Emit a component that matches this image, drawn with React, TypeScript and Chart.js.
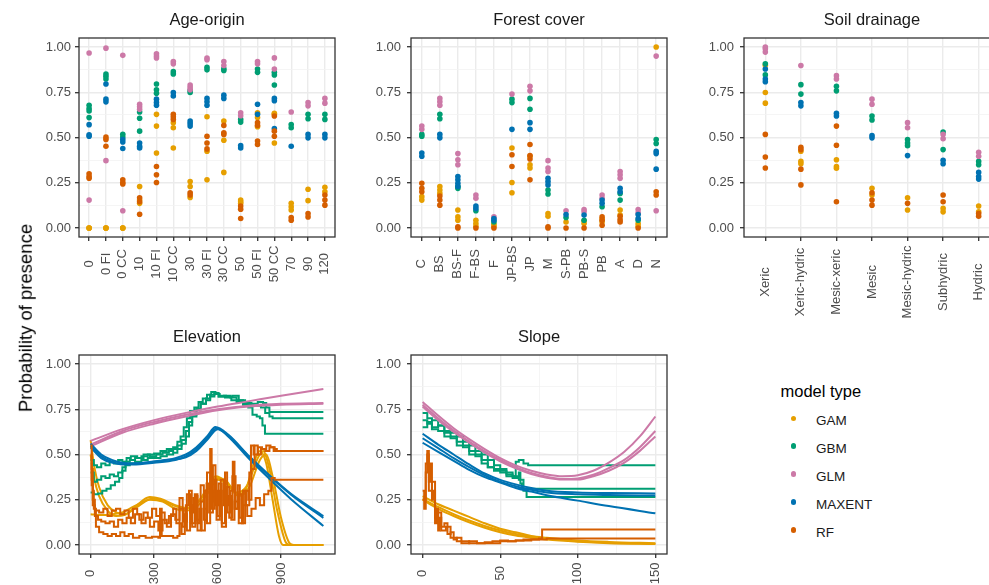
import React, { useEffect, useRef } from "react";
import { Chart, registerables } from "chart.js";
Chart.register(...registerables);

const FONT = "'Liberation Sans', Arial, Helvetica, sans-serif";
const MODELS = ["GAM", "GBM", "GLM", "MAXENT", "RF"];
const COLORS = ["#E69F00", "#009E73", "#CC79A7", "#0072B2", "#D55E00"];

const Y_TICKS = [0, 0.125, 0.25, 0.375, 0.5, 0.625, 0.75, 0.875, 1];
const Y_MAJOR_STEP = 0.25;

// ---------- Age-origin ----------
const AGE_CATS = ["0", "0 FI", "0 CC", "10", "10 FI", "10 CC", "30", "30 FI", "30 CC", "50", "50 FI", "50 CC", "70", "90", "120"];
const ageGAM = [[0, 0, 0], [0, 0, 0], [0, 0, 0], [0.229, 0.154, 0.136], [0.628, 0.563, 0.414], [0.582, 0.554, 0.442], [0.257, 0.229, 0.169], [0.615, 0.424, 0.266], [0.591, 0.485, 0.307], [0.154, 0.145, 0.136], [0.637, 0.61, 0.56], [0.634, 0.628, 0.47], [0.136, 0.117, 0.099], [0.214, 0.151], [0.225, 0.2]];
const ageGBM = [[0.678, 0.66, 0.647, 0.61], [0.851, 0.838, 0.823], [0.518, 0.503], [0.641, 0.606, 0.535], [0.796, 0.764, 0.745], [0.864, 0.851], [0.76, 0.749], [0.888, 0.874], [0.88, 0.87], [0.6, 0.585], [0.879, 0.86], [0.86, 0.846, 0.79], [0.572, 0.554], [0.628, 0.604], [0.628, 0.6]];
const ageGLM = [[0.967, 0.154], [0.994, 0.372], [0.954, 0.095], [0.684, 0.67, 0.656], [0.963, 0.95, 0.94], [0.92, 0.907], [0.79, 0.777, 0.764], [0.939, 0.93], [0.92, 0.898], [0.637, 0.62], [0.92, 0.907], [0.94, 0.879], [0.641], [0.693, 0.675], [0.716, 0.69]];
const ageMAX = [[0.571, 0.515, 0.507], [0.796, 0.712, 0.697], [0.489, 0.475, 0.439], [0.47, 0.452, 0.442], [0.712, 0.693, 0.678], [0.749, 0.73], [0.591, 0.578, 0.563], [0.716, 0.697, 0.678], [0.734, 0.716], [0.455, 0.442], [0.684, 0.628], [0.716, 0.703, 0.549], [0.452], [0.517, 0.498], [0.517, 0.498]];
const ageRF = [[0.3, 0.284, 0.275], [0.502, 0.489, 0.452], [0.266, 0.251, 0.243], [0.167, 0.145, 0.076], [0.34, 0.294, 0.251], [0.628, 0.615, 0.6], [0.195, 0.182], [0.507, 0.47, 0.437], [0.567, 0.526, 0.517], [0.121, 0.104, 0.052], [0.582, 0.567, 0.48, 0.461], [0.619, 0.535, 0.507], [0.058, 0.043], [0.08, 0.061], [0.182, 0.154, 0.126]];

// ---------- Forest cover ----------
const FOREST_CATS = ["C", "BS", "BS-F", "F-BS", "F", "JP-BS", "JP", "M", "S-PB", "PB-S", "PB", "A", "D", "N"];
const forGAM = [[0.173, 0.154], [0.229, 0.21, 0.191], [0.099, 0.061, 0.043], [0.043, 0.024, 0.009], [0.02, 0.009], [0.442, 0.251, 0.195], [0.396, 0.349, 0.331], [0.08, 0.065], [0.033], [0.04, 0.024], [0.05, 0.033], [0.099, 0.071], [0.024, 0.01], [1.0]];
const forGBM = [[0.517, 0.507], [0.628, 0.604], [0.23, 0.219], [0.095], [0.033], [0.712, 0.693], [0.716, 0.656], [0.21, 0.188], [0.058], [0.043], [0.117], [0.191, 0.154], [0.043], [0.489, 0.467]];
const forGLM = [[0.563, 0.545], [0.716, 0.697, 0.678], [0.411, 0.377, 0.349], [0.182, 0.164], [0.061], [0.74], [0.783, 0.758], [0.372, 0.331, 0.312], [0.095], [0.102, 0.089], [0.182, 0.164], [0.312, 0.294, 0.275], [0.102, 0.084], [0.95, 0.095]];
const forMAX = [[0.414, 0.396], [0.517, 0.498], [0.284, 0.266, 0.247, 0.229], [0.121, 0.108], [0.052, 0.043], [0.545], [0.582, 0.545], [0.275, 0.257, 0.238], [0.074], [0.071], [0.154, 0.136], [0.219, 0.2], [0.074, 0.052], [0.424, 0.411, 0.325]];
const forRF = [[0.247, 0.219, 0.2], [0.177, 0.154, 0.126], [0.006, 0], [0], [0], [0.405, 0.34], [0.461, 0.4, 0.381, 0.266], [0.006, 0], [0], [0], [0.061, 0.043, 0.015], [0.065, 0.046, 0.033], [0], [0.2, 0.182]];

// ---------- Soil drainage ----------
const SOIL_CATS = ["Xeric", "Xeric-hydric", "Mesic-xeric", "Mesic", "Mesic-hydric", "Subhydric", "Hydric"];
const soilGAM = [[0.9, 0.749, 0.69], [0.424, 0.368, 0.355], [0.377, 0.34, 0.33], [0.219, 0.182], [0.167, 0.099], [0.108, 0.089], [0.121, 0.089]];
const soilGBM = [[0.907, 0.846], [0.792, 0.74], [0.783, 0.758], [0.619, 0.597], [0.489, 0.47, 0.455], [0.53, 0.433], [0.368, 0.349]];
const soilGLM = [[1.0, 0.991, 0.972], [0.898], [0.842, 0.823], [0.712, 0.684], [0.582, 0.554], [0.517, 0.493], [0.418, 0.396]];
const soilMAX = [[0.879, 0.823, 0.808], [0.693, 0.675], [0.634, 0.619], [0.511, 0.498], [0.4], [0.374, 0.355], [0.307, 0.284, 0.27]];
const soilRF = [[0.517, 0.392, 0.331], [0.446, 0.433, 0.325, 0.238], [0.563, 0.457, 0.145], [0.195, 0.154, 0.126], [0.136], [0.182, 0.145], [0.08, 0.065]];

// ---------- Elevation (x, probability) ----------
const ELEV_TICKS = [0, 150, 300, 450, 600, 750, 900, 1050];
const elevGAM1 = [[0, 0.58], [15, 0.45], [40, 0.32], [80, 0.22], [120, 0.18], [160, 0.17], [200, 0.2], [250, 0.25], [280, 0.265], [330, 0.255], [400, 0.22], [450, 0.205], [500, 0.23], [550, 0.31], [590, 0.38], [640, 0.35], [690, 0.28], [730, 0.3], [770, 0.45], [800, 0.52], [830, 0.45], [860, 0.25], [890, 0.05], [910, 0], [1100, 0]];
const elevGAM2 = [[0, 0.17], [50, 0.165], [100, 0.17], [150, 0.18], [200, 0.21], [250, 0.24], [290, 0.255], [340, 0.245], [400, 0.215], [450, 0.2], [500, 0.225], [550, 0.3], [595, 0.37], [640, 0.355], [690, 0.29], [740, 0.33], [790, 0.48], [815, 0.52], [845, 0.42], [880, 0.2], [920, 0.02], [940, 0], [1100, 0]];
const elevGAM3 = [[0, 0.5], [15, 0.38], [40, 0.27], [80, 0.19], [120, 0.16], [160, 0.165], [220, 0.21], [280, 0.25], [340, 0.24], [400, 0.2], [450, 0.19], [500, 0.21], [550, 0.28], [600, 0.36], [650, 0.33], [700, 0.27], [750, 0.32], [800, 0.47], [830, 0.5], [860, 0.38], [900, 0.15], [940, 0.01], [960, 0], [1100, 0]];
const elevGBM1 = [[0, 0.47], [15, 0.44], [30, 0.43], [50, 0.45], [70, 0.44], [90, 0.46], [110, 0.45], [130, 0.47], [150, 0.46], [170, 0.48], [190, 0.49], [220, 0.48], [250, 0.5], [280, 0.49], [310, 0.5], [340, 0.51], [370, 0.52], [390, 0.54], [410, 0.57], [425, 0.6], [440, 0.65], [455, 0.7], [470, 0.74], [490, 0.76], [510, 0.79], [530, 0.81], [550, 0.83], [570, 0.845], [590, 0.835], [610, 0.825], [640, 0.82], [670, 0.825], [700, 0.8], [730, 0.785], [760, 0.78], [790, 0.79], [815, 0.785], [830, 0.76], [845, 0.735], [1100, 0.735]];
const elevGBM2 = [[0, 0.4], [15, 0.35], [30, 0.36], [50, 0.38], [70, 0.37], [90, 0.39], [110, 0.38], [130, 0.4], [150, 0.43], [165, 0.46], [185, 0.47], [210, 0.48], [240, 0.49], [270, 0.5], [300, 0.505], [330, 0.52], [360, 0.53], [390, 0.53], [410, 0.55], [430, 0.58], [450, 0.63], [465, 0.68], [480, 0.72], [500, 0.75], [520, 0.78], [545, 0.81], [565, 0.83], [585, 0.84], [605, 0.82], [630, 0.825], [660, 0.815], [690, 0.8], [720, 0.785], [750, 0.775], [780, 0.77], [805, 0.76], [825, 0.73], [845, 0.71], [860, 0.7], [1100, 0.7]];
const elevGBM3 = [[0, 0.29], [15, 0.28], [35, 0.285], [55, 0.3], [75, 0.31], [95, 0.33], [115, 0.35], [135, 0.37], [150, 0.41], [165, 0.44], [185, 0.45], [210, 0.46], [240, 0.47], [270, 0.48], [300, 0.48], [330, 0.49], [360, 0.5], [390, 0.51], [410, 0.53], [430, 0.56], [450, 0.6], [465, 0.66], [480, 0.71], [500, 0.75], [520, 0.78], [545, 0.8], [565, 0.82], [585, 0.835], [605, 0.82], [635, 0.815], [665, 0.8], [690, 0.79], [720, 0.775], [745, 0.76], [765, 0.72], [785, 0.71], [800, 0.7], [812, 0.66], [824, 0.615], [1100, 0.615]];
const elevGLM1 = [[0, 0.575], [150, 0.64], [300, 0.69], [450, 0.73], [600, 0.765], [750, 0.795], [900, 0.825], [1100, 0.862]];
const elevGLM2 = [[0, 0.555], [150, 0.63], [300, 0.68], [450, 0.72], [600, 0.75], [750, 0.77], [900, 0.78], [1100, 0.785]];
const elevGLM3 = [[0, 0.545], [150, 0.62], [300, 0.67], [450, 0.71], [600, 0.745], [750, 0.765], [900, 0.775], [1100, 0.78]];
const elevMAX1 = [[0, 0.56], [50, 0.5], [100, 0.47], [150, 0.455], [200, 0.45], [300, 0.46], [400, 0.48], [450, 0.5], [500, 0.54], [550, 0.6], [590, 0.652], [650, 0.61], [750, 0.49], [850, 0.38], [950, 0.28], [1100, 0.16]];
const elevMAX2 = [[0, 0.55], [50, 0.49], [100, 0.46], [150, 0.445], [200, 0.445], [300, 0.455], [400, 0.47], [450, 0.49], [500, 0.53], [550, 0.59], [595, 0.645], [650, 0.6], [750, 0.475], [850, 0.36], [950, 0.25], [1100, 0.105]];
const elevMAX3 = [[0, 0.54], [50, 0.48], [100, 0.455], [150, 0.45], [250, 0.455], [350, 0.47], [450, 0.485], [500, 0.52], [550, 0.58], [600, 0.64], [650, 0.605], [750, 0.485], [850, 0.375], [950, 0.275], [1100, 0.15]];
const elevRF1 = [[0, 0.55], [5, 0.42], [10, 0.3], [15, 0.2], [25, 0.1], [40, 0.07], [60, 0.06], [80, 0.05], [100, 0.06], [120, 0.05], [140, 0.07], [160, 0.05], [180, 0.06], [200, 0.04], [230, 0.05], [260, 0.04], [290, 0.045], [320, 0.04], [328, 0.2], [336, 0.05], [360, 0.05], [390, 0.04], [410, 0.05], [420, 0.12], [430, 0.06], [445, 0.17], [455, 0.08], [470, 0.22], [480, 0.1], [495, 0.27], [505, 0.12], [515, 0.2], [525, 0.08], [540, 0.3], [550, 0.12], [565, 0.53], [572, 0.2], [585, 0.36], [595, 0.14], [610, 0.3], [620, 0.12], [635, 0.4], [645, 0.18], [660, 0.3], [672, 0.46], [680, 0.2], [695, 0.33], [705, 0.15], [720, 0.3], [735, 0.22], [750, 0.4], [758, 0.55], [770, 0.5], [790, 0.54], [810, 0.53], [830, 0.55], [850, 0.54], [870, 0.53], [880, 0.52], [1100, 0.52]];
const elevRF2 = [[0, 0.5], [5, 0.36], [10, 0.25], [20, 0.16], [35, 0.14], [50, 0.13], [70, 0.12], [90, 0.13], [110, 0.1], [130, 0.14], [150, 0.12], [170, 0.15], [190, 0.12], [210, 0.17], [230, 0.14], [250, 0.18], [270, 0.15], [290, 0.2], [310, 0.16], [330, 0.18], [350, 0.12], [370, 0.16], [390, 0.2], [405, 0.12], [420, 0.26], [435, 0.1], [450, 0.22], [465, 0.3], [478, 0.12], [492, 0.28], [505, 0.08], [520, 0.24], [535, 0.14], [548, 0.34], [560, 0.18], [578, 0.44], [590, 0.22], [605, 0.34], [620, 0.1], [640, 0.32], [655, 0.15], [670, 0.38], [685, 0.2], [700, 0.28], [715, 0.12], [730, 0.3], [745, 0.25], [760, 0.42], [775, 0.55], [790, 0.5], [805, 0.53], [825, 0.52], [845, 0.54], [865, 0.52], [1100, 0.52]];
const elevRF3 = [[0, 0.45], [5, 0.33], [10, 0.22], [20, 0.19], [40, 0.18], [60, 0.2], [80, 0.16], [100, 0.19], [120, 0.2], [140, 0.17], [160, 0.19], [180, 0.15], [200, 0.2], [220, 0.17], [240, 0.12], [260, 0.15], [280, 0.1], [300, 0.13], [320, 0.08], [340, 0.14], [360, 0.1], [380, 0.17], [400, 0.14], [420, 0.2], [440, 0.13], [455, 0.28], [470, 0.18], [485, 0.26], [500, 0.14], [520, 0.33], [535, 0.2], [550, 0.4], [565, 0.24], [580, 0.3], [600, 0.16], [615, 0.36], [630, 0.22], [650, 0.27], [665, 0.14], [680, 0.24], [700, 0.12], [720, 0.22], [740, 0.16], [760, 0.2], [780, 0.26], [800, 0.22], [820, 0.28], [840, 0.3], [855, 0.37], [870, 0.36], [1100, 0.36]];

// ---------- Slope (x, probability) ----------
const SLOPE_TICKS = [0, 25, 50, 75, 100, 125, 150];
const slopeGAM1 = [[0, 0.27], [10, 0.225], [20, 0.19], [30, 0.155], [40, 0.12], [50, 0.09], [60, 0.07], [70, 0.05], [80, 0.04], [100, 0.025], [120, 0.017], [150, 0.01]];
const slopeGAM2 = [[0, 0.255], [10, 0.21], [20, 0.17], [30, 0.135], [40, 0.105], [50, 0.08], [60, 0.06], [70, 0.045], [80, 0.035], [100, 0.02], [120, 0.012], [150, 0.006]];
const slopeGAM3 = [[0, 0.25], [10, 0.2], [20, 0.16], [30, 0.125], [40, 0.095], [50, 0.07], [60, 0.052], [70, 0.04], [80, 0.03], [100, 0.018], [120, 0.01], [150, 0.005]];
const slopeGBM1 = [[0, 0.73], [3, 0.7], [6, 0.69], [10, 0.66], [14, 0.63], [18, 0.62], [22, 0.6], [26, 0.57], [30, 0.55], [34, 0.52], [38, 0.5], [42, 0.47], [46, 0.44], [50, 0.42], [54, 0.4], [58, 0.38], [60, 0.46], [62, 0.47], [65, 0.45], [68, 0.44], [150, 0.44]];
const slopeGBM2 = [[0, 0.69], [3, 0.67], [6, 0.65], [10, 0.66], [14, 0.62], [18, 0.6], [22, 0.57], [26, 0.55], [30, 0.52], [34, 0.5], [38, 0.47], [42, 0.43], [46, 0.41], [50, 0.4], [54, 0.39], [58, 0.38], [62, 0.4], [63, 0.34], [64, 0.31], [150, 0.31]];
const slopeGBM3 = [[0, 0.65], [3, 0.68], [6, 0.64], [10, 0.63], [14, 0.6], [18, 0.59], [22, 0.55], [26, 0.54], [30, 0.5], [34, 0.49], [38, 0.45], [42, 0.43], [46, 0.42], [50, 0.41], [54, 0.38], [58, 0.37], [62, 0.36], [65, 0.3], [67, 0.265], [150, 0.265]];
const slopeGLM1 = [[0, 0.79], [10, 0.715], [20, 0.645], [30, 0.585], [40, 0.53], [50, 0.48], [60, 0.44], [70, 0.41], [80, 0.39], [90, 0.38], [100, 0.385], [110, 0.41], [120, 0.455], [130, 0.515], [140, 0.6], [150, 0.71]];
const slopeGLM2 = [[0, 0.775], [10, 0.7], [20, 0.632], [30, 0.572], [40, 0.518], [50, 0.47], [60, 0.43], [70, 0.398], [80, 0.377], [90, 0.365], [100, 0.368], [110, 0.388], [120, 0.425], [130, 0.47], [140, 0.54], [150, 0.63]];
const slopeGLM3 = [[0, 0.765], [10, 0.69], [20, 0.625], [30, 0.565], [40, 0.51], [50, 0.462], [60, 0.423], [70, 0.392], [80, 0.372], [90, 0.362], [100, 0.362], [110, 0.38], [120, 0.41], [130, 0.455], [140, 0.52], [150, 0.6]];
const slopeMAX1 = [[0, 0.615], [10, 0.555], [20, 0.5], [30, 0.445], [40, 0.395], [50, 0.36], [60, 0.335], [70, 0.315], [80, 0.3], [100, 0.29], [120, 0.287], [150, 0.285]];
const slopeMAX2 = [[0, 0.59], [10, 0.535], [20, 0.48], [30, 0.43], [40, 0.385], [50, 0.35], [60, 0.325], [70, 0.305], [80, 0.29], [100, 0.28], [120, 0.276], [150, 0.273]];
const slopeMAX3 = [[0, 0.565], [10, 0.515], [20, 0.465], [30, 0.415], [40, 0.375], [50, 0.345], [60, 0.315], [70, 0.295], [80, 0.275], [100, 0.245], [120, 0.215], [150, 0.175]];
const slopeRF1 = [[0, 0.3], [1, 0.2], [2, 0.4], [3, 0.5], [4, 0.35], [5, 0.45], [6, 0.25], [7, 0.3], [8, 0.12], [9, 0.2], [10, 0.08], [11, 0.15], [12, 0.1], [14, 0.12], [16, 0.06], [18, 0.07], [20, 0.03], [22, 0.04], [25, 0.01], [30, 0.02], [35, 0.01], [40, 0.015], [45, 0.02], [50, 0.025], [55, 0.02], [60, 0.025], [65, 0.03], [70, 0.03], [75, 0.035], [77, 0.085], [150, 0.085]];
const slopeRF2 = [[0, 0.25], [2, 0.45], [3, 0.52], [4, 0.3], [6, 0.35], [8, 0.15], [10, 0.18], [12, 0.08], [15, 0.1], [18, 0.04], [22, 0.02], [30, 0.01], [40, 0.01], [50, 0.02], [60, 0.025], [70, 0.03], [80, 0.035], [150, 0.035]];

// ---------- helpers ----------
const isMult = (v: number, step: number) => Math.abs(v / step - Math.round(v / step)) < 1e-6;

function catDatasets(series: number[][][]) {
  return series.map((cats, m) => ({
    label: MODELS[m],
    order: 4 - m,
    data: cats.flatMap((vals, i) => vals.map((v) => ({ x: i, y: v }))),
    pointRadius: 2.8,
    pointHoverRadius: 2.8,
    pointBackgroundColor: COLORS[m],
    pointBorderWidth: 0,
    borderColor: COLORS[m],
    showLine: false,
  }));
}

function lineDatasets(groups: { m: number; lines: number[][][]; stepped?: boolean }[]) {
  const out: any[] = [];
  groups.forEach((g) => {
    g.lines.forEach((ln) => {
      out.push({
        label: MODELS[g.m],
        order: 4 - g.m,
        data: ln.map(([x, y]) => ({ x, y })),
        showLine: true,
        pointRadius: 0,
        borderWidth: 2,
        borderColor: COLORS[g.m],
        backgroundColor: COLORS[g.m],
        stepped: g.stepped ? "before" : false,
        cubicInterpolationMode: g.stepped ? "default" : "monotone",
      });
    });
  });
  return out;
}

type Spec = {
  key: string;
  title: string;
  left: number;
  top: number;
  yAxisW: number;
  yPad: number;
  xAxisH: number;
  plotW: number;
  plotH: number;
  xMin: number;
  xMax: number;
  xTicks: number[];
  xMajor: (v: number) => boolean;
  xLabels: { value: number; text: string }[];
  datasets: any[];
};

const TITLE_H = 38;
const RIGHT_PAD = 12;

const catTicks = (cats: string[]) => cats.map((_, i) => i);
const catLabels = (cats: string[]) => cats.map((c, i) => ({ value: i, text: c }));

const PANELS: Spec[] = [
  {
    key: "age", title: "Age-origin", left: 0, top: 0, yAxisW: 79, yPad: 4, xAxisH: 100, plotW: 256, plotH: 199,
    xMin: -0.6, xMax: AGE_CATS.length - 0.4, xTicks: catTicks(AGE_CATS), xMajor: () => true, xLabels: catLabels(AGE_CATS),
    datasets: catDatasets([ageGAM, ageGBM, ageGLM, ageMAX, ageRF]),
  },
  {
    key: "forest", title: "Forest cover", left: 351, top: 0, yAxisW: 60, yPad: 6, xAxisH: 100, plotW: 256, plotH: 199,
    xMin: -0.6, xMax: FOREST_CATS.length - 0.4, xTicks: catTicks(FOREST_CATS), xMajor: () => true, xLabels: catLabels(FOREST_CATS),
    datasets: catDatasets([forGAM, forGBM, forGLM, forMAX, forRF]),
  },
  {
    key: "soil", title: "Soil drainage", left: 684, top: 0, yAxisW: 60, yPad: 6, xAxisH: 100, plotW: 256, plotH: 199,
    xMin: -0.6, xMax: SOIL_CATS.length - 0.4, xTicks: catTicks(SOIL_CATS), xMajor: () => true, xLabels: catLabels(SOIL_CATS),
    datasets: catDatasets([soilGAM, soilGBM, soilGLM, soilMAX, soilRF]),
  },
  {
    key: "elev", title: "Elevation", left: 0, top: 317, yAxisW: 79, yPad: 4, xAxisH: 40, plotW: 256, plotH: 199,
    xMin: -55, xMax: 1155, xTicks: ELEV_TICKS, xMajor: (v) => isMult(v, 300),
    xLabels: ELEV_TICKS.filter((v) => isMult(v, 300)).map((v) => ({ value: v, text: String(v) })),
    datasets: lineDatasets([
      { m: 0, lines: [elevGAM1, elevGAM2, elevGAM3] },
      { m: 1, lines: [elevGBM1, elevGBM2, elevGBM3], stepped: true },
      { m: 2, lines: [elevGLM1, elevGLM2, elevGLM3] },
      { m: 3, lines: [elevMAX1, elevMAX2, elevMAX3] },
      { m: 4, lines: [elevRF1, elevRF2, elevRF3], stepped: true },
    ]),
  },
  {
    key: "slope", title: "Slope", left: 351, top: 317, yAxisW: 60, yPad: 6, xAxisH: 40, plotW: 256, plotH: 199,
    xMin: -7.5, xMax: 157.5, xTicks: SLOPE_TICKS, xMajor: (v) => isMult(v, 50),
    xLabels: SLOPE_TICKS.filter((v) => isMult(v, 50)).map((v) => ({ value: v, text: String(v) })),
    datasets: lineDatasets([
      { m: 0, lines: [slopeGAM1, slopeGAM2, slopeGAM3] },
      { m: 1, lines: [slopeGBM1, slopeGBM2, slopeGBM3], stepped: true },
      { m: 2, lines: [slopeGLM1, slopeGLM2, slopeGLM3] },
      { m: 3, lines: [slopeMAX1, slopeMAX2, slopeMAX3] },
      { m: 4, lines: [slopeRF1, slopeRF2], stepped: true },
    ]),
  },
];

const GRID_MAJOR = "#EBEBEB";
const GRID_MINOR = "#F2F2F2";
const AXIS_DARK = "#333333";
const TICK_TEXT = "#4D4D4D";
const TICK_FONT = 13;

function makeDecoPlugin(spec: Spec) {
  return {
    id: "panelDeco_" + spec.key,
    afterDatasetsDraw(chart: any) {
      const { ctx, chartArea } = chart;
      ctx.save();
      ctx.strokeStyle = AXIS_DARK;
      ctx.lineWidth = 1.3;
      ctx.strokeRect(chartArea.left, chartArea.top, chartArea.right - chartArea.left, chartArea.bottom - chartArea.top);
      ctx.restore();
    },
    afterDraw(chart: any) {
      const { ctx, chartArea } = chart;
      const xs = chart.scales.x;
      ctx.save();
      ctx.font = `${TICK_FONT}px ${FONT}`;
      ctx.fillStyle = TICK_TEXT;
      ctx.textAlign = "center";
      ctx.textBaseline = "middle";
      const maxW = Math.max(...spec.xLabels.map((l) => ctx.measureText(l.text).width));
      const cy = chartArea.bottom + 4 + 4.5 + maxW / 2;
      spec.xLabels.forEach((l) => {
        const px = xs.getPixelForValue(l.value);
        ctx.save();
        ctx.translate(px, cy);
        ctx.rotate(-Math.PI / 2);
        ctx.fillText(l.text, 0, 0);
        ctx.restore();
      });
      ctx.restore();
    },
  };
}

function Panel({ spec }: { spec: Spec }) {
  const ref = useRef<HTMLCanvasElement | null>(null);
  const w = spec.yAxisW + spec.plotW + RIGHT_PAD;
  const h = TITLE_H + spec.plotH + spec.xAxisH;
  useEffect(() => {
    if (!ref.current) return;
    const yMajor = (v: number) => isMult(v, Y_MAJOR_STEP);
    const chart = new Chart(ref.current, {
      type: "scatter",
      data: { datasets: spec.datasets },
      options: {
        animation: false,
        responsive: false,
        devicePixelRatio: 1,
        events: [],
        layout: { padding: { left: 0, right: RIGHT_PAD, top: 0, bottom: 0 } },
        plugins: {
          legend: { display: false },
          tooltip: { enabled: false },
          title: {
            display: true,
            text: spec.title,
            fullSize: false,
            color: "#1A1A1A",
            font: { family: FONT, size: 16.5, weight: "normal", lineHeight: 1.2 },
            padding: { top: 11, bottom: 7.2 },
          },
        },
        scales: {
          x: {
            type: "linear",
            min: spec.xMin,
            max: spec.xMax,
            afterBuildTicks: (axis: any) => {
              axis.ticks = spec.xTicks.map((v) => ({ value: v }));
            },
            afterFit: (axis: any) => {
              axis.height = spec.xAxisH;
            },
            ticks: { display: false },
            border: { display: false },
            grid: {
              drawOnChartArea: true,
              drawTicks: true,
              tickLength: 4,
              color: (c: any) => (spec.xMajor(c.tick?.value ?? 0) ? GRID_MAJOR : GRID_MINOR),
              lineWidth: (c: any) => (spec.xMajor(c.tick?.value ?? 0) ? 1.4 : 0.8),
              tickColor: (c: any) => (spec.xMajor(c.tick?.value ?? 0) ? AXIS_DARK : "rgba(0,0,0,0)"),
              tickWidth: 1.3,
            },
          },
          y: {
            type: "linear",
            min: -0.05,
            max: 1.05,
            afterBuildTicks: (axis: any) => {
              axis.ticks = Y_TICKS.map((v) => ({ value: v }));
            },
            afterFit: (axis: any) => {
              axis.width = spec.yAxisW;
            },
            border: { display: false },
            ticks: {
              color: TICK_TEXT,
              font: { family: FONT, size: TICK_FONT },
              padding: spec.yPad,
              autoSkip: false,
              callback: (v: any) => (yMajor(Number(v)) ? Number(v).toFixed(2) : ""),
            },
            grid: {
              drawTicks: true,
              tickLength: 4,
              color: (c: any) => (yMajor(c.tick?.value ?? 0) ? GRID_MAJOR : GRID_MINOR),
              lineWidth: (c: any) => (yMajor(c.tick?.value ?? 0) ? 1.4 : 0.8),
              tickColor: (c: any) => (yMajor(c.tick?.value ?? 0) ? AXIS_DARK : "rgba(0,0,0,0)"),
              tickWidth: 1.3,
            },
          },
        },
      } as any,
      plugins: [makeDecoPlugin(spec)],
    });
    return () => chart.destroy();
  }, []);
  return (
    <canvas
      ref={ref}
      width={w}
      height={h}
      style={{ position: "absolute", left: spec.left, top: spec.top, width: w, height: h }}
    />
  );
}

const LEGEND_TOP0 = 418.3;
const LEGEND_STEP = 27.9;

export default function App() {
  return (
    <div
      style={{
        position: "fixed",
        left: 0,
        top: 0,
        width: 989,
        height: 585,
        overflow: "hidden",
        background: "#ffffff",
        fontFamily: FONT,
      }}
    >
      {PANELS.map((p) => (
        <Panel key={p.key} spec={p} />
      ))}
      <div
        style={{
          position: "absolute",
          left: 25.5,
          top: 318,
          transform: "translate(-50%, -50%) rotate(-90deg)",
          whiteSpace: "nowrap",
          fontSize: 18.5,
          lineHeight: 1,
          color: "#000000",
        }}
      >
        Probability of presence
      </div>
      <div
        style={{
          position: "absolute",
          left: 780.5,
          top: 382.7,
          fontSize: 16.5,
          lineHeight: 1,
          color: "#000000",
          whiteSpace: "nowrap",
        }}
      >
        model type
      </div>
      {MODELS.map((m, i) => (
        <React.Fragment key={m}>
          <div
            style={{
              position: "absolute",
              left: 793.3 - 2.8,
              top: LEGEND_TOP0 + i * LEGEND_STEP - 2.8,
              width: 5.6,
              height: 5.6,
              borderRadius: "50%",
              background: COLORS[i],
            }}
          />
          <div
            style={{
              position: "absolute",
              left: 816,
              top: LEGEND_TOP0 + 2.5 + i * LEGEND_STEP - 0.85 * 13.5 + 4.9,
              fontSize: 13.5,
              lineHeight: 1,
              color: "#1A1A1A",
              whiteSpace: "nowrap",
            }}
          >
            {m}
          </div>
        </React.Fragment>
      ))}
    </div>
  );
}
